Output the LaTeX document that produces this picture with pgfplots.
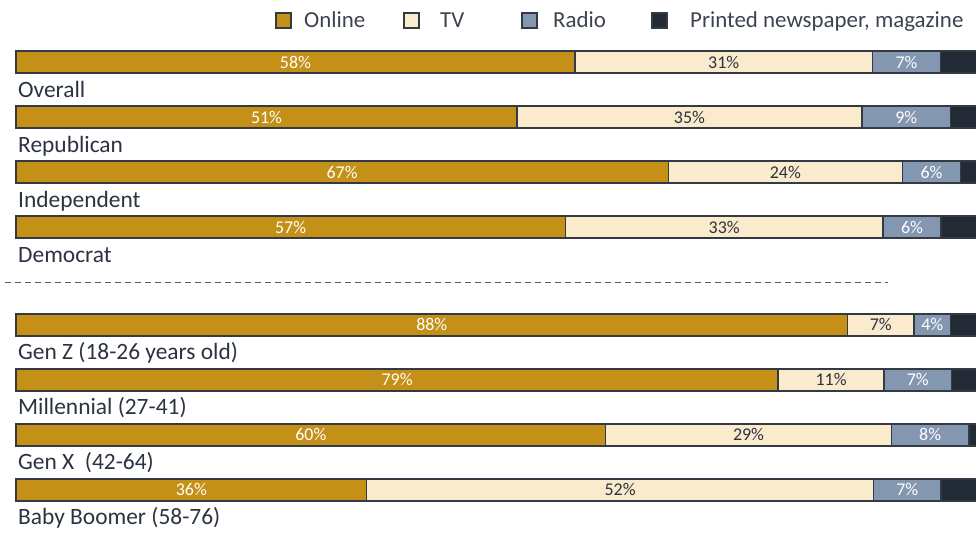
\documentclass[border=0pt]{standalone}
\usepackage{pgfplots}
\pgfplotsset{compat=1.18}
\usepackage{pgfplotstable}
\usepackage{fontspec}
\setmainfont{Carlito}
\definecolor{conline}{HTML}{C49018}
\definecolor{ctv}{HTML}{FAEBCD}
\definecolor{cradio}{HTML}{8497B0}
\definecolor{cprint}{HTML}{222A35}
\definecolor{cedge}{HTML}{333A45}
\definecolor{ctext}{HTML}{2B3340}
\definecolor{clegtext}{HTML}{3C4350}
\definecolor{cdash}{HTML}{5A5F66}

\pgfplotstableread{
y     online  tv     radio  print  lo  lt  lr
0     58.0    30.9   7.06   4.04   58  31  7
1     52.0    35.8   9.2    3.0    51  35  9
2     67.7    24.3   6.05   1.95   67  24  6
3     57.0    33.0   6.0    4.0    57  33  6
4.78  86.3    6.9    3.8    3.0    88  7   4
5.78  79.1    11.0   7.0    2.9    79  11  7
6.78  61.2    29.65  8.05   1.1    60  29  8
7.78  36.4    52.6   7.0    4.0    36  52  7
}\data

\begin{document}
\begin{tikzpicture}
\begin{axis}[
  scale only axis, width=976bp, height=533bp,
  xmin=-1.6606, xmax=99.637, ymin=-1.1273, ymax=8.5636, y dir=reverse,
  xbar stacked, bar width=22bp,
  axis line style={draw=none}, xtick=\empty,
  ytick={0,1,2,3,4.78,5.78,6.78,7.78},
  yticklabels={Overall,Republican,Independent,Democrat,Gen Z (18-26 years old),Millennial (27-41),Gen X\ \ (42-64),Baby Boomer (58-76)},
  major tick length=0pt,
  yticklabel style={anchor=base west, inner sep=0pt, xshift=18bp, yshift=-35bp,
    font=\fontsize{23.5}{28}\selectfont, text=ctext},
  every axis plot/.append style={draw=cedge, line width=1.4bp},
  legend columns=4,
  legend style={at={(axis description cs:0.2818,0.9615)}, anchor=west,
    draw=none, fill=none, inner sep=0pt, font=\fontsize{23}{26}\selectfont,
    text=clegtext, nodes={inner sep=0pt},
    /tikz/every odd column/.append style={column sep=12bp},
    /tikz/every even column/.append style={column sep=0bp}},
  legend cell align=left,
  legend image code/.code={\draw[#1, line width=2bp] (0bp,-7.5bp) rectangle (15bp,7.5bp);},
]
\addplot[fill=conline, point meta=explicit symbolic,
  nodes near coords={\pgfplotspointmeta\%},
  every node near coord/.append style={anchor=center, text=white,
    font=\fontsize{18}{20}\selectfont}]
  table[x=online, y=y, meta=lo]{\data};
\addlegendentry{\makebox[99bp][l]{Online}}
\addplot[fill=ctv, point meta=explicit symbolic,
  nodes near coords={\pgfplotspointmeta\%},
  every node near coord/.append style={anchor=center, text=ctext,
    font=\fontsize{18}{20}\selectfont}]
  table[x=tv, y=y, meta=lt]{\data};
\addlegendentry{\hspace*{8bp}\makebox[81bp][l]{TV}}
\addplot[fill=cradio, point meta=explicit symbolic,
  nodes near coords={\pgfplotspointmeta\%},
  every node near coord/.append style={anchor=center, text=white,
    font=\fontsize{18}{20}\selectfont}]
  table[x=radio, y=y, meta=lr]{\data};
\addlegendentry{\hspace*{3bp}\makebox[98bp][l]{Radio}}
\addplot[fill=cprint] table[x=print, y=y]{\data};
\addlegendentry{\hspace*{10bp}Printed newspaper, magazine}
\draw[cdash, line width=1bp, dash pattern=on 6bp off 4bp] (axis cs:-1.14,4.018) -- (axis cs:90.5,4.018);
\end{axis}
\pgfresetboundingbox
\path[use as bounding box] (current axis.south west) rectangle (current axis.north east);
\end{tikzpicture}
\end{document}
